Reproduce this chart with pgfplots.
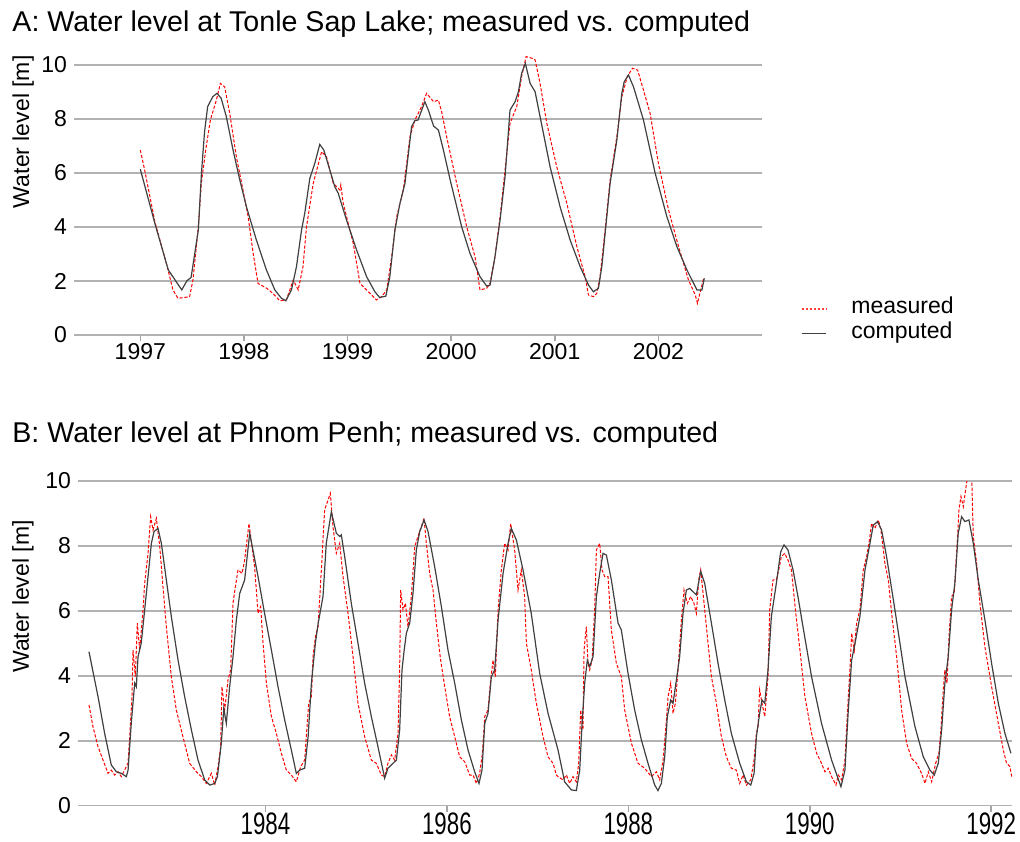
\documentclass[border=0pt]{standalone}
\usepackage{fontspec}
\setmainfont{Liberation Sans}
\usepackage{graphicx}
\usepackage{pgfplots}
\pgfplotsset{compat=1.18}

\tikzset{
  measured/.style={draw=red, line width=0.5pt, dash pattern=on 1.6pt off 0.9pt},
  computed/.style={draw=black!75, line width=0.6pt},
}
\pgfplotsset{
  wl/.style={
    scale only axis,
    axis line style={draw=none},
    tick pos=left,
    xtick align=outside,
    ytick style={draw=none},
    xtick style={gray!70, line width=0.8pt},
    major tick length=3pt,
    ymajorgrids,
    major grid style={gray!60, line width=0.9pt},
    ymin=0,
    ytick={0,2,...,10},
    tick label style={font=\fontsize{11.5}{13}\selectfont},
    /pgf/number format/assume math mode=true,
    /pgf/number format/1000 sep={},
    label style={font=\fontsize{11.5}{13}\selectfont},
    ylabel style={anchor=east, inner sep=0pt},
    title style={font=\fontsize{14.3}{16}\selectfont, anchor=base west, inner sep=0pt},
  },
}

\begin{document}
\begin{tikzpicture}
\path[use as bounding box] (0,0) rectangle (510pt,420.5pt);

% A: Tonle Sap Lake
\begin{axis}[wl,
  at={(37pt,253pt)}, anchor=south west,
  width=344pt, height=143.1pt,
  xmin=1996.36, xmax=2003.0, ymax=10.6,
  xtick={1997,...,2002},
  xticklabel style={inner sep=1pt},
  title={A: Water level at Tonle Sap Lake; measured vs. computed},
  title style={at={(axis description cs:-0.090,1.019)}},
  ylabel={Water level [m]},
  ylabel style={at={(axis description cs:-0.074,0.978)}},
]
\addplot[measured] coordinates {
(1997.00,6.85) (1997.042,6.11) (1997.14,4.20) (1997.26,2.53) (1997.315,1.67)
(1997.363,1.36) (1997.428,1.39) (1997.476,1.42) (1997.508,2.04) (1997.557,3.89)
(1997.589,5.62) (1997.631,6.85) (1997.676,7.96) (1997.734,8.70) (1997.773,9.32)
(1997.814,9.19) (1997.863,8.21) (1997.927,6.60) (1997.991,5.37) (1998.04,4.40)
(1998.09,3.00) (1998.136,1.91) (1998.22,1.73) (1998.28,1.54) (1998.346,1.27)
(1998.41,1.30) (1998.476,2.04) (1998.524,1.67) (1998.57,2.53) (1998.604,4.01)
(1998.669,5.62) (1998.75,6.79) (1998.797,6.60) (1998.862,5.62) (1998.926,5.37)
(1998.935,5.56) (1998.958,4.88) (1999.055,3.40) (1999.12,1.91) (1999.184,1.67)
(1999.28,1.30) (1999.33,1.42) (1999.378,1.67) (1999.426,2.90) (1999.474,4.38)
(1999.538,5.37) (1999.603,7.35) (1999.65,7.96) (1999.714,8.46) (1999.763,8.95)
(1999.83,8.64) (1999.877,8.70) (1999.908,8.27) (1999.956,7.35) (2000.053,5.62)
(2000.15,4.01) (2000.23,2.90) (2000.278,1.67) (2000.343,1.73) (2000.375,1.91)
(2000.423,2.90) (2000.472,4.38) (2000.52,6.11) (2000.568,7.84) (2000.633,8.46)
(2000.68,9.57) (2000.723,10.31) (2000.78,10.25) (2000.81,10.19) (2000.858,9.32)
(2000.923,7.84) (2001.019,6.23) (2001.116,4.88) (2001.213,3.27) (2001.293,2.16)
(2001.325,1.48) (2001.373,1.42) (2001.405,1.54) (2001.437,2.16) (2001.486,3.89)
(2001.534,5.74) (2001.599,7.35) (2001.647,8.83) (2001.70,9.57) (2001.75,9.88)
(2001.80,9.81) (2001.856,9.07) (2001.92,8.21) (2002.00,6.36) (2002.098,4.63)
(2002.195,3.27) (2002.29,2.04) (2002.356,1.48) (2002.377,1.17) (2002.40,1.54)
(2002.437,2.10)
};
\addplot[computed] coordinates {
(1997.00,6.14) (1997.14,4.14) (1997.27,2.41) (1997.40,1.67) (1997.45,2.01)
(1997.49,2.13) (1997.56,3.89) (1997.59,5.99) (1997.62,7.53) (1997.65,8.46)
(1997.70,8.83) (1997.74,8.95) (1997.78,8.77) (1997.83,8.09) (1997.895,6.85)
(1997.96,5.74) (1998.024,4.75) (1998.12,3.52) (1998.217,2.41) (1998.298,1.67)
(1998.362,1.36) (1998.404,1.27) (1998.459,1.67) (1998.507,2.53) (1998.556,3.89)
(1998.587,4.51) (1998.636,5.80) (1998.684,6.36) (1998.732,7.06) (1998.771,6.85)
(1998.829,6.11) (1998.877,5.49) (1998.91,5.25) (1998.99,4.26) (1999.087,3.15)
(1999.184,2.16) (1999.264,1.60) (1999.31,1.39) (1999.37,1.44) (1999.408,2.16)
(1999.457,3.89) (1999.506,4.88) (1999.554,5.62) (1999.618,7.72) (1999.65,7.94)
(1999.68,7.96) (1999.746,8.64) (1999.78,8.33) (1999.83,7.74) (1999.877,7.59)
(1999.925,6.85) (1999.99,5.75) (2000.101,4.01) (2000.182,3.02) (2000.278,2.16)
(2000.343,1.81) (2000.375,1.85) (2000.423,2.90) (2000.472,4.26) (2000.52,5.86)
(2000.568,8.33) (2000.617,8.64) (2000.649,9.01) (2000.68,9.69) (2000.716,10.06)
(2000.762,9.32) (2000.81,9.01) (2000.858,8.09) (2000.955,6.23) (2001.051,4.75)
(2001.148,3.52) (2001.245,2.53) (2001.325,1.85) (2001.373,1.60) (2001.421,1.73)
(2001.454,2.53) (2001.486,3.77) (2001.534,5.62) (2001.599,7.22) (2001.647,8.95)
(2001.67,9.38) (2001.711,9.63) (2001.76,9.19) (2001.856,7.96) (2001.969,5.99)
(2002.082,4.38) (2002.179,3.27) (2002.275,2.41) (2002.372,1.67) (2002.42,1.67)
(2002.443,2.10)
};
\end{axis}

% legend of panel A
\draw[draw=red!75, line width=0.6pt, dash pattern=on 1pt off 1pt] (400.8pt,266pt) -- (413pt,266pt);
\draw[computed] (400.8pt,253.85pt) -- (413pt,253.85pt);
\node[anchor=base west, inner sep=0pt, font=\fontsize{11.5}{13}\selectfont] at (425.5pt,263.5pt) {measured};
\node[anchor=base west, inner sep=0pt, font=\fontsize{11.5}{13}\selectfont] at (425.5pt,251.35pt) {computed};

% B: Phnom Penh
\begin{axis}[wl,
  at={(39pt,17.75pt)}, anchor=south west,
  width=467pt, height=162.25pt,
  xmin=1981.933, xmax=1992.23, ymax=10,
  xtick={1984,1986,...,1992},
  xticklabel={\scalebox{0.97}[1.35]{\pgfmathprintnumber{\tick}}},
  xticklabel style={inner sep=0pt, yshift=-0.5pt},
  title={B: Water level at Phnom Penh; measured vs. computed},
  title style={at={(axis description cs:-0.0707,1.081)}},
  ylabel={Water level [m]},
  ylabel style={at={(axis description cs:-0.0589,0.88)}},
]
\addplot[measured] coordinates {
(1982.054,3.10) (1982.098,2.43) (1982.154,1.81) (1982.209,1.40) (1982.264,0.99)
(1982.30,1.09) (1982.337,0.94) (1982.374,1.04) (1982.411,0.89) (1982.447,1.09)
(1982.484,1.30) (1982.503,2.12) (1982.528,3.35) (1982.54,4.79) (1982.565,3.97)
(1982.587,5.62) (1982.613,4.79) (1982.65,6.03) (1982.668,6.85) (1982.705,7.77)
(1982.734,8.90) (1982.76,8.49) (1982.797,8.85) (1982.834,7.98) (1982.87,6.74)
(1982.907,5.51) (1982.962,3.97) (1983.017,2.94) (1983.09,2.12) (1983.164,1.30)
(1983.238,1.04) (1983.293,0.89) (1983.348,0.68) (1983.403,0.99) (1983.44,0.63)
(1983.477,1.20) (1983.506,1.81) (1983.52,3.66) (1983.55,2.94) (1983.587,3.87)
(1983.616,4.18) (1983.642,6.23) (1983.668,6.74) (1983.697,7.26) (1983.741,7.15)
(1983.77,7.56) (1983.818,8.69) (1983.844,8.13) (1983.88,7.36) (1983.918,5.92)
(1983.947,6.13) (1983.973,5.00) (1984.01,3.77) (1984.065,2.74) (1984.12,2.22)
(1984.175,1.61) (1984.23,1.09) (1984.285,0.94) (1984.34,0.73) (1984.388,1.20)
(1984.432,1.40) (1984.45,2.12) (1984.476,3.15) (1984.506,3.35) (1984.524,4.59)
(1984.55,5.20) (1984.579,5.51) (1984.616,7.26) (1984.652,9.11) (1984.689,9.41)
(1984.715,9.62) (1984.744,8.59) (1984.781,7.77) (1984.818,8.08) (1984.855,7.05)
(1984.91,5.92) (1984.965,4.59) (1985.02,3.15) (1985.093,2.12) (1985.167,1.40)
(1985.222,1.30) (1985.277,0.94) (1985.314,0.89) (1985.35,1.30) (1985.388,1.56)
(1985.424,1.40) (1985.461,2.22) (1985.479,4.18) (1985.49,6.64) (1985.516,6.03)
(1985.542,6.23) (1985.571,5.51) (1985.608,6.44) (1985.645,7.98) (1985.681,8.29)
(1985.718,8.59) (1985.748,8.85) (1985.773,8.08) (1985.81,7.15) (1985.847,6.64)
(1985.884,5.62) (1985.909,5.00) (1985.931,4.48) (1985.976,3.66) (1986.03,2.74)
(1986.086,2.12) (1986.141,1.50) (1986.196,1.35) (1986.251,0.94) (1986.288,0.94)
(1986.325,0.68) (1986.361,0.99) (1986.391,1.61) (1986.417,2.74) (1986.453,2.94)
(1986.479,3.77) (1986.508,4.48) (1986.534,3.97) (1986.564,6.03) (1986.60,7.26)
(1986.637,8.08) (1986.674,7.87) (1986.703,8.69) (1986.747,7.87) (1986.784,6.64)
(1986.82,7.26) (1986.857,6.44) (1986.876,5.00) (1986.93,4.18) (1986.986,3.15)
(1987.06,2.12) (1987.115,1.50) (1987.17,1.30) (1987.207,0.94) (1987.225,0.89)
(1987.28,0.79) (1987.317,0.94) (1987.354,0.68) (1987.39,0.89) (1987.427,0.73)
(1987.453,1.30) (1987.475,2.94) (1987.50,2.33) (1987.512,4.79) (1987.537,5.51)
(1987.556,4.38) (1987.574,4.18) (1987.60,4.48) (1987.629,6.03) (1987.648,7.87)
(1987.666,7.98) (1987.684,8.08) (1987.71,7.26) (1987.74,7.05) (1987.776,7.05)
(1987.813,5.41) (1987.868,4.38) (1987.923,3.97) (1987.96,2.94) (1988.034,1.92)
(1988.107,1.30) (1988.18,1.15) (1988.254,0.89) (1988.309,1.04) (1988.346,0.79)
(1988.383,1.40) (1988.42,2.63) (1988.438,3.35) (1988.467,3.77) (1988.493,2.84)
(1988.519,3.15) (1988.548,4.18) (1988.585,5.72) (1988.614,6.64) (1988.651,6.23)
(1988.688,6.44) (1988.724,6.23) (1988.75,5.92) (1988.776,6.95) (1988.798,7.26)
(1988.835,6.23) (1988.879,5.00) (1988.916,3.97) (1988.971,3.15) (1989.026,2.12)
(1989.081,1.50) (1989.136,1.15) (1989.191,1.09) (1989.228,0.68) (1989.265,0.94)
(1989.302,0.63) (1989.35,0.79) (1989.386,1.40) (1989.412,2.22) (1989.43,2.43)
(1989.448,3.56) (1989.474,3.15) (1989.504,2.74) (1989.54,3.97) (1989.559,6.03)
(1989.595,6.95) (1989.632,6.95) (1989.658,7.26) (1989.687,7.67) (1989.724,7.77)
(1989.761,7.56) (1989.798,7.26) (1989.842,6.03) (1989.892,4.79) (1989.947,3.35)
(1990.02,2.22) (1990.076,1.61) (1990.13,1.30) (1990.167,1.04) (1990.204,1.15)
(1990.241,0.89) (1990.289,0.63) (1990.315,0.94) (1990.351,0.79) (1990.388,1.40)
(1990.417,2.94) (1990.443,4.18) (1990.462,5.31) (1990.491,4.79) (1990.517,5.62)
(1990.553,6.03) (1990.59,7.26) (1990.627,7.67) (1990.653,8.08) (1990.682,8.69)
(1990.719,8.54) (1990.756,8.80) (1990.785,8.49) (1990.829,7.46) (1990.866,6.95)
(1990.903,5.92) (1990.958,4.59) (1991.013,2.94) (1991.068,1.92) (1991.123,1.45)
(1991.178,1.30) (1991.233,0.99) (1991.27,0.68) (1991.307,1.04) (1991.344,0.73)
(1991.388,1.30) (1991.424,1.61) (1991.446,2.33) (1991.472,3.56) (1991.49,4.18)
(1991.513,3.77) (1991.535,5.20) (1991.564,6.44) (1991.593,6.54) (1991.619,7.77)
(1991.645,9.11) (1991.667,9.52) (1991.693,9.21) (1991.718,9.72) (1991.748,10.30)
(1991.785,10.20) (1991.803,8.29) (1991.84,7.46) (1991.876,6.23) (1991.931,4.89)
(1992.005,3.66) (1992.079,2.53) (1992.134,1.71) (1992.17,1.30) (1992.207,1.20)
(1992.226,0.89)
};
\addplot[computed] coordinates {
(1982.054,4.74) (1982.154,3.35) (1982.227,2.22) (1982.30,1.25) (1982.356,1.04)
(1982.41,0.99) (1982.466,0.89) (1982.485,1.09) (1982.52,2.53) (1982.558,3.77)
(1982.576,3.66) (1982.595,4.59) (1982.63,5.00) (1982.668,6.03) (1982.705,7.05)
(1982.742,8.08) (1982.771,8.44) (1982.815,8.54) (1982.852,8.08) (1982.907,6.95)
(1982.962,5.82) (1983.036,4.48) (1983.109,3.35) (1983.183,2.33) (1983.256,1.40)
(1983.33,0.79) (1983.385,0.63) (1983.44,0.68) (1983.47,0.89) (1983.513,1.92)
(1983.54,2.99) (1983.568,2.53) (1983.605,3.66) (1983.642,4.59) (1983.679,5.72)
(1983.716,6.54) (1983.77,6.95) (1983.826,8.39) (1983.918,7.05) (1983.99,5.92)
(1984.065,4.79) (1984.138,3.66) (1984.212,2.63) (1984.285,1.71) (1984.34,0.99)
(1984.377,1.09) (1984.432,1.15) (1984.47,2.12) (1984.506,3.77) (1984.55,5.00)
(1984.58,5.60) (1984.634,6.44) (1984.67,8.08) (1984.726,9.05) (1984.781,8.39)
(1984.818,8.29) (1984.836,8.34) (1984.873,7.67) (1984.946,6.23) (1985.02,5.00)
(1985.093,3.77) (1985.167,2.74) (1985.24,1.81) (1985.314,0.84) (1985.35,1.15)
(1985.406,1.30) (1985.443,1.40) (1985.479,2.33) (1985.505,4.18) (1985.527,4.74)
(1985.553,5.31) (1985.59,5.62) (1985.626,6.54) (1985.663,7.87) (1985.70,8.44)
(1985.748,8.80) (1985.792,8.44) (1985.865,7.36) (1985.939,6.13) (1986.012,4.79)
(1986.086,3.77) (1986.16,2.63) (1986.233,1.71) (1986.306,1.04) (1986.354,0.68)
(1986.387,1.09) (1986.417,2.53) (1986.453,2.84) (1986.49,3.97) (1986.527,4.18)
(1986.564,5.72) (1986.619,7.15) (1986.674,8.08) (1986.71,8.54) (1986.766,8.18)
(1986.839,7.26) (1986.93,5.92) (1987.023,4.07) (1987.115,2.84) (1987.225,1.71)
(1987.298,0.73) (1987.372,0.48) (1987.427,0.46) (1987.464,1.09) (1987.49,2.53)
(1987.519,3.77) (1987.548,4.48) (1987.574,4.28) (1987.611,4.59) (1987.648,6.44)
(1987.684,7.15) (1987.721,7.77) (1987.758,7.72) (1987.813,6.95) (1987.887,5.62)
(1987.923,5.41) (1987.997,4.07) (1988.07,2.94) (1988.144,2.02) (1988.217,1.30)
(1988.291,0.63) (1988.327,0.46) (1988.364,0.68) (1988.401,1.50) (1988.43,2.74)
(1988.467,3.25) (1988.493,3.15) (1988.53,3.87) (1988.566,4.59) (1988.603,5.92)
(1988.64,6.64) (1988.677,6.69) (1988.713,6.59) (1988.75,6.49) (1988.798,7.21)
(1988.842,6.85) (1988.916,5.62) (1988.989,4.38) (1989.063,3.25) (1989.136,2.22)
(1989.228,1.30) (1989.302,0.73) (1989.35,0.63) (1989.386,0.99) (1989.412,2.12)
(1989.448,2.84) (1989.474,3.25) (1989.504,3.15) (1989.54,4.18) (1989.577,5.82)
(1989.632,6.85) (1989.68,7.82) (1989.717,8.03) (1989.761,7.87) (1989.816,7.26)
(1989.87,6.44) (1989.92,5.60) (1990.02,3.97) (1990.13,2.53) (1990.241,1.40)
(1990.344,0.58) (1990.388,1.09) (1990.425,2.94) (1990.462,4.48) (1990.506,5.10)
(1990.553,5.82) (1990.609,7.26) (1990.664,8.08) (1990.70,8.64) (1990.748,8.75)
(1990.792,8.49) (1990.847,7.67) (1990.939,6.03) (1991.05,3.97) (1991.16,2.43)
(1991.252,1.50) (1991.325,1.09) (1991.373,0.94) (1991.417,1.30) (1991.454,2.33)
(1991.49,3.77) (1991.527,4.59) (1991.564,6.03) (1991.60,6.85) (1991.637,8.39)
(1991.674,8.90) (1991.711,8.75) (1991.755,8.80) (1991.803,8.08) (1991.858,6.95)
(1991.931,5.72) (1992.005,4.38) (1992.079,3.15) (1992.152,2.22) (1992.218,1.61)
};
\end{axis}
\end{tikzpicture}
\end{document}
